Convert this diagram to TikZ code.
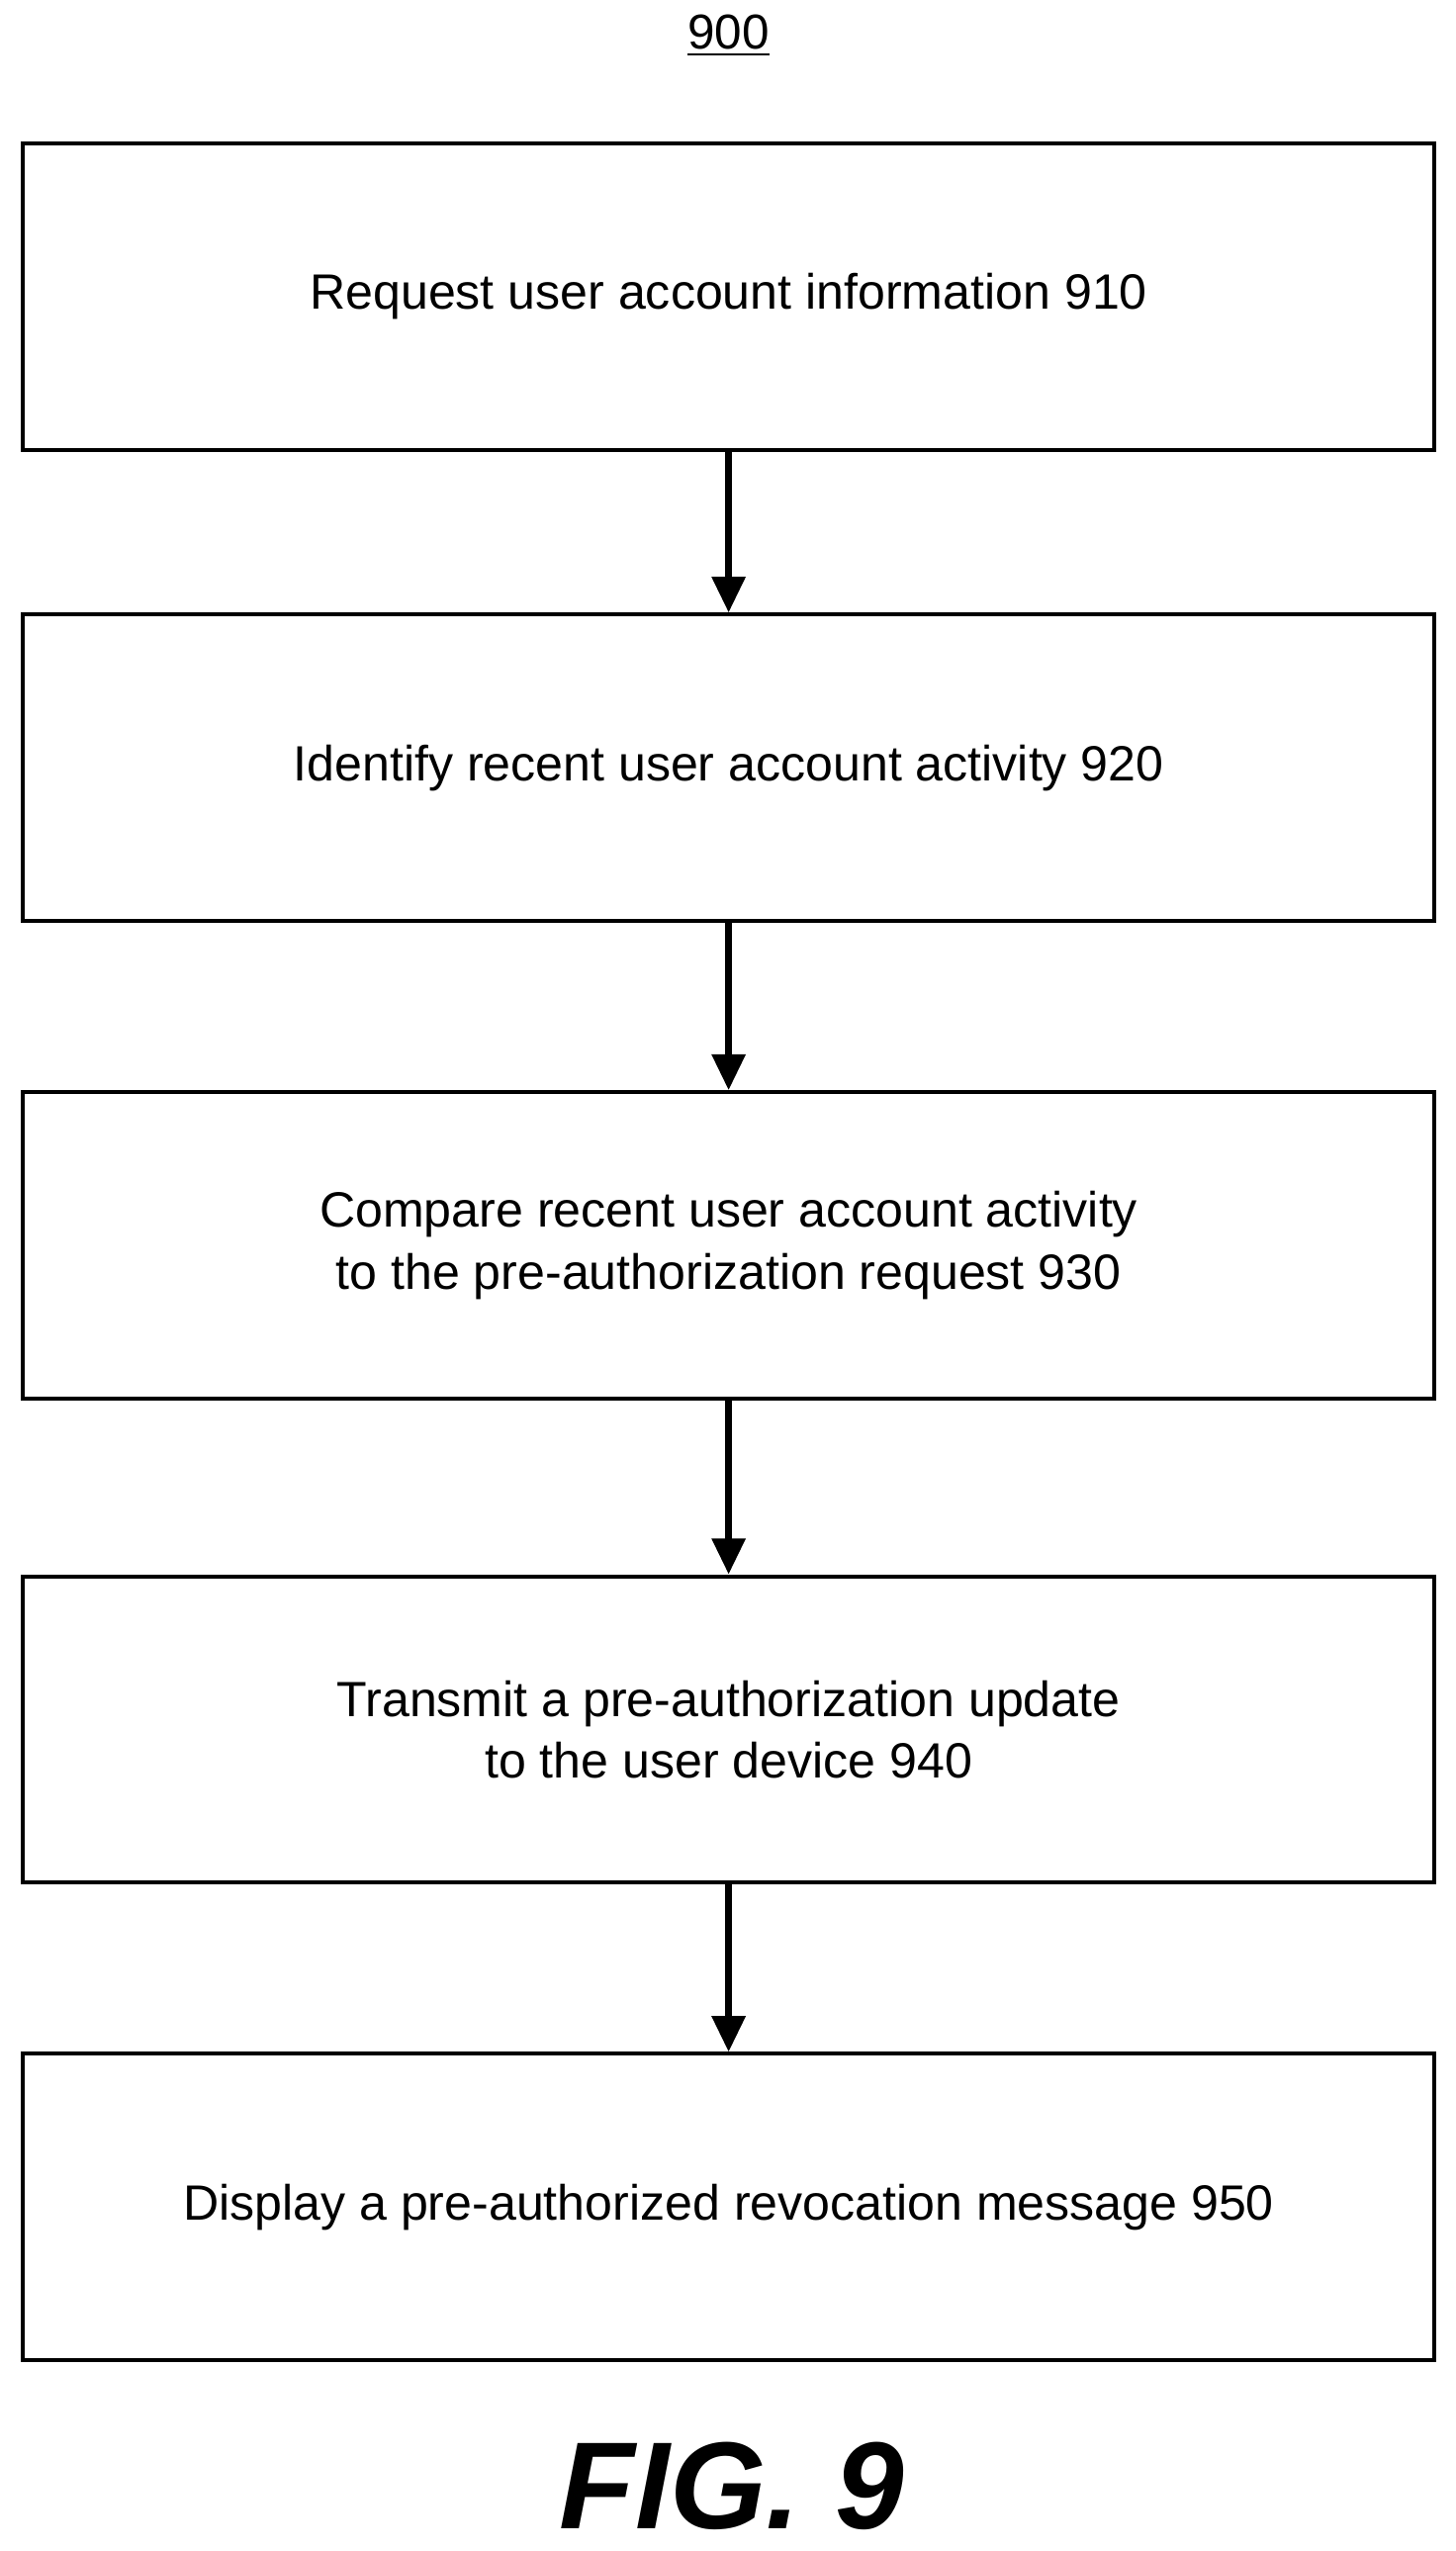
\documentclass[tikz,border=0pt]{standalone}
\usepackage{fontspec}
\setmainfont{Liberation Sans}
\usetikzlibrary{arrows.meta}
\tikzset{stepbox/.style={draw,line width=1.2pt,minimum width=433pt,minimum height=94pt,
    align=center,font=\fontsize{15.2}{19}\selectfont,inner sep=0pt},
    flow/.style={line width=2pt,-{Triangle[length=11pt,width=10pt]}}}
\begin{document}
\begin{tikzpicture}[x=0.5pt,y=-0.5pt]
    \useasboundingbox (0,0) rectangle (893,1565);
    \node[font=\fontsize{15}{17}\selectfont] (title) at (447,22) {\underline{900}};
    \node[stepbox] (s1) at (447,182) {Request user account information 910};
    \node[stepbox] (s2) at (447,471) {Identify recent user account activity 920};
    \node[stepbox] (s3) at (447,764) {Compare recent user account activity\\to the pre-authorization request 930};
    \node[stepbox] (s4) at (447,1061) {Transmit a pre-authorization update\\to the user device 940};
    \node[stepbox] (s5) at (447,1354) {Display a pre-authorized revocation message 950};
    \node[font=\fontsize{38}{40}\selectfont\bfseries\itshape] (fig) at (449,1525) {FIG. 9};
    \draw[flow] (s1) -- (s2);
    \draw[flow] (s2) -- (s3);
    \draw[flow] (s3) -- (s4);
    \draw[flow] (s4) -- (s5);
\end{tikzpicture}
\end{document}
